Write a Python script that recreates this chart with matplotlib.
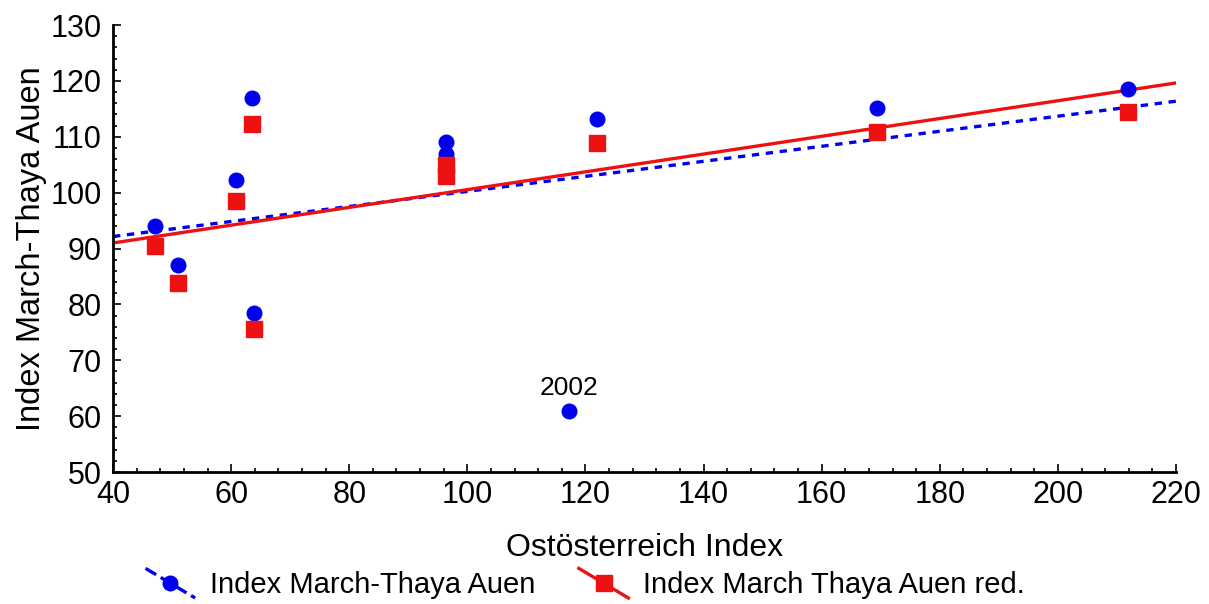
import numpy as np
import matplotlib
matplotlib.use("Agg")
import matplotlib.pyplot as plt
from matplotlib.lines import Line2D
from matplotlib.legend_handler import HandlerLine2D
from matplotlib.ticker import MultipleLocator

plt.rcParams['font.family'] = ['Liberation Sans', 'DejaVu Sans']

# Ostösterreich index (x) and March-Thaya Auen index (y)
ost_index = [47.1, 51.0, 60.8, 63.5, 63.9, 96.4, 96.4, 117.2, 122.0, 169.4, 211.9]
mt_index = [94.0, 87.0, 102.3, 116.9, 78.5, 109.1, 106.9, 60.9, 113.2, 115.1, 118.5]

# reduced series (no value for 2002)
ost_red = [47.1, 51.0, 60.8, 63.5, 63.9, 96.4, 96.4, 122.0, 169.4, 211.9]
mt_red = [90.4, 83.8, 98.5, 112.3, 75.6, 104.9, 103.0, 108.9, 110.8, 114.4]

label_blue = "Index March-Thaya Auen"
label_red = "Index March Thaya Auen red."
note_text = "2002"
note_x, note_y = 117.2, 60.9


class DiagonalHandler(HandlerLine2D):
    # legend sample drawn as a short diagonal line with the marker in the middle
    def create_artists(self, legend, orig_handle, xdescent, ydescent,
                       width, height, fontsize, trans):
        x0, x1 = -xdescent, -xdescent + width
        y0, y1 = -ydescent + height * 1.2, -ydescent - height * 0.25
        line = Line2D([x0, x1], [y0, y1], color=orig_handle.get_color(),
                      linestyle=orig_handle.get_linestyle(),
                      linewidth=orig_handle.get_linewidth())
        mark = Line2D([(x0 + x1) / 2], [(y0 + y1) / 2], linestyle="none",
                      marker=orig_handle.get_marker(),
                      markersize=orig_handle.get_markersize(),
                      color=orig_handle.get_color())
        line.set_transform(trans)
        mark.set_transform(trans)
        return [line, mark]


fig = plt.figure(figsize=(12.09, 6.04), dpi=100)
ax = fig.add_axes([0.0935, 0.2185, 0.8792, 0.7401])

blue = "#0000ee"
red = "#ee1111"

xs = np.array([40, 220])
b_fit = np.polyfit(ost_index, mt_index, 1)
r_fit = np.polyfit(ost_red, mt_red, 1)

ax.plot(xs, np.polyval(b_fit, xs), color=blue, linestyle=(0, (2.2, 2.0)), linewidth=2.4, zorder=2)
ax.plot(xs, np.polyval(r_fit, xs), color=red, linestyle="-", linewidth=2.4, zorder=2)
ax.plot(ost_index, mt_index, "o", color=blue, markersize=10.5, zorder=3)
ax.plot(ost_red, mt_red, "s", color=red, markersize=11, zorder=3)

ax.text(note_x, note_y + 2.0, note_text, ha="center", va="bottom", fontsize=19)

ax.set_xlim(40, 220)
ax.set_ylim(50, 130)
ax.xaxis.set_major_locator(MultipleLocator(20))
ax.xaxis.set_minor_locator(MultipleLocator(4))
ax.yaxis.set_major_locator(MultipleLocator(10))
ax.yaxis.set_minor_locator(MultipleLocator(2))
ax.tick_params(which="both", direction="in", width=1.2, labelsize=22)
ax.tick_params(which="major", length=6)
ax.tick_params(which="minor", length=3)
ax.tick_params(axis="x", pad=6)
ax.tick_params(axis="y", pad=8)
for side in ["top", "right"]:
    ax.spines[side].set_visible(False)
for side in ["left", "bottom"]:
    ax.spines[side].set_linewidth(2)

ax.set_xlabel("Ostösterreich Index", fontsize=23, labelpad=16)
ax.set_ylabel("Index March-Thaya Auen", fontsize=23.5, labelpad=3)

h_blue = Line2D([], [], color=blue, linestyle=(0, (2.2, 2.0)), linewidth=2.4, marker="o", markersize=10.5)
h_red = Line2D([], [], color=red, linestyle="-", linewidth=2.4, marker="s", markersize=11)
fig.legend([h_blue, h_red], [label_blue, label_red], loc="lower center",
           bbox_to_anchor=(0.484, -0.035), ncol=2, frameon=False, fontsize=21,
           handler_map={Line2D: DiagonalHandler()}, handlelength=1.7,
           columnspacing=1.5, handletextpad=0.5)

fig.savefig("out.png", dpi=100)
